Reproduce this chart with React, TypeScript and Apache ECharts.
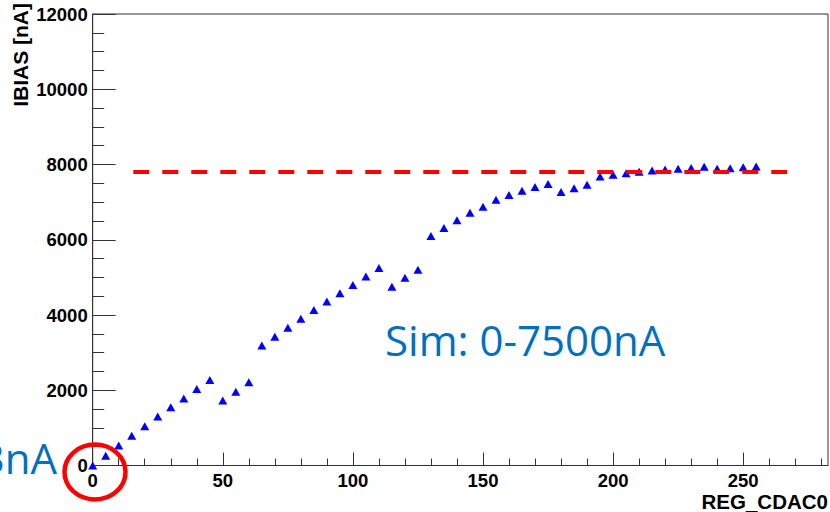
import React, { useEffect, useRef } from "react";
import * as echarts from "echarts";

// REG_CDAC0 setting (x) and measured IBIAS [nA] (y)
const xValues = [
  0, 5, 10, 15, 20, 25, 30, 35, 40, 45, 50, 55, 60, 65, 70, 75, 80, 85, 90, 95,
  100, 105, 110, 115, 120, 125, 130, 135, 140, 145, 150, 155, 160, 165, 170,
  175, 180, 185, 190, 195, 200, 205, 210, 215, 220, 225, 230, 235, 240, 245,
  250, 255,
];
const yValues = [
  0, 260, 530, 790, 1040, 1300, 1550, 1780, 2030, 2270, 1730, 1960, 2210, 3190,
  3420, 3660, 3900, 4130, 4360, 4580, 4800, 5020, 5250, 4750, 4990, 5200, 6100,
  6310, 6520, 6720, 6880, 7060, 7190, 7300, 7400, 7480, 7270, 7370, 7460, 7680,
  7730, 7770, 7810, 7840, 7870, 7890, 7910, 7940, 7890, 7900, 7930, 7950,
];

// Reference (dashed) level
const refLevel = 7800;
const refStartX = 15.6;
const refEndX = 268;

// Axis ticks
const xMajorTicks = [0, 50, 100, 150, 200, 250];
const xMinorTicks = [
  10, 20, 30, 40, 60, 70, 80, 90, 110, 120, 130, 140, 160, 170, 180, 190, 210,
  220, 230, 240, 260, 270, 280,
];
const xMin = 0;
const xMax = 282.6;
const yMin = 0;
const yMax = 12000;
const yInterval = 2000;

const xTitle = "REG_CDAC0";
const yTitle = "IBIAS [nA]";
const simText = "Sim: 0-7500nA";
const measText = "3nA";

export default function App() {
  const ref = useRef<HTMLDivElement>(null);

  useEffect(() => {
    if (!ref.current) return;
    const chart = echarts.init(ref.current, null, { renderer: "svg" });
    const axisColor = "#333";
    const tickFont = {
      color: "#000",
      fontFamily: "Liberation Sans, Arial, sans-serif",
      fontWeight: "bold" as const,
      fontSize: 18.5,
    };

    chart.setOption({
      animation: false,
      backgroundColor: "#fff",
      grid: {
        left: 92.7,
        top: 14,
        right: 2,
        bottom: 46.5,
        show: true,
        borderColor: axisColor,
        borderWidth: 1,
        backgroundColor: "transparent",
      },
      xAxis: [
        {
          type: "value",
          min: xMin,
          max: xMax,
          splitLine: { show: false },
          axisLine: { show: true, lineStyle: { color: axisColor, width: 1 } },
          axisTick: {
            show: true,
            inside: true,
            length: 13,
            customValues: xMajorTicks,
            lineStyle: { color: axisColor, width: 1 },
          },
          axisLabel: {
            ...tickFont,
            margin: 5,
            customValues: xMajorTicks,
            formatter: (v: number) => String(v),
          },
        },
        {
          type: "value",
          min: xMin,
          max: xMax,
          position: "bottom",
          splitLine: { show: false },
          axisLine: { show: false },
          axisLabel: { show: false },
          axisTick: {
            show: true,
            inside: true,
            length: 7,
            customValues: xMinorTicks,
            lineStyle: { color: axisColor, width: 1 },
          },
        },
      ],
      yAxis: {
        type: "value",
        min: yMin,
        max: yMax,
        interval: yInterval,
        splitLine: { show: false },
        axisLine: { show: true, lineStyle: { color: axisColor, width: 1 } },
        axisTick: {
          show: true,
          inside: true,
          length: 23,
          lineStyle: { color: axisColor, width: 1 },
        },
        minorTick: {
          show: true,
          splitNumber: 4,
          length: 11.5,
          lineStyle: { color: axisColor, width: 1 },
        },
        minorSplitLine: { show: false },
        axisLabel: {
          ...tickFont,
          margin: 5,
          formatter: (v: number) => String(v),
        },
      },
      series: [
        {
          type: "scatter",
          xAxisIndex: 0,
          symbol: "triangle",
          symbolSize: [9, 8],
          itemStyle: { color: "#0000ff", opacity: 1 },
          data: xValues.map((x, i) => [x, yValues[i]]),
          z: 2,
        },
        {
          type: "line",
          xAxisIndex: 0,
          symbol: "none",
          lineStyle: { color: "#ff0000", width: 4, type: [16, 13] },
          data: [
            [refStartX, refLevel],
            [refEndX, refLevel],
          ],
          z: 3,
        },
      ],
      graphic: [
        {
          type: "text",
          x: 20,
          y: 3,
          rotation: Math.PI / 2,
          style: {
            text: yTitle,
            align: "right",
            verticalAlign: "middle",
            fill: "#000",
            font: "bold 21px 'Liberation Sans', Arial, sans-serif",
          },
        },
        {
          type: "text",
          x: 828,
          y: 501,
          style: {
            text: xTitle,
            align: "right",
            verticalAlign: "middle",
            fill: "#000",
            font: "bold 20.5px 'Liberation Sans', Arial, sans-serif",
          },
        },
        {
          type: "text",
          x: 385,
          y: 339,
          style: {
            text: simText,
            align: "left",
            verticalAlign: "middle",
            fill: "#0070c0",
            font: "42px 'Open Sans', sans-serif",
          },
        },
        {
          type: "text",
          x: 57,
          y: 457,
          style: {
            text: measText,
            align: "right",
            verticalAlign: "middle",
            fill: "#0070c0",
            font: "42px 'Open Sans', sans-serif",
          },
        },
        {
          type: "ellipse",
          shape: { cx: 95, cy: 472, rx: 30.5, ry: 27.5 },
          style: { fill: "none", stroke: "#ff0000", lineWidth: 4.5 },
          z: 10,
        },
      ],
    });

    return () => chart.dispose();
  }, []);

  return (
    <div
      ref={ref}
      style={{ position: "fixed", left: 0, top: 0, width: 830, height: 512 }}
    />
  );
}
